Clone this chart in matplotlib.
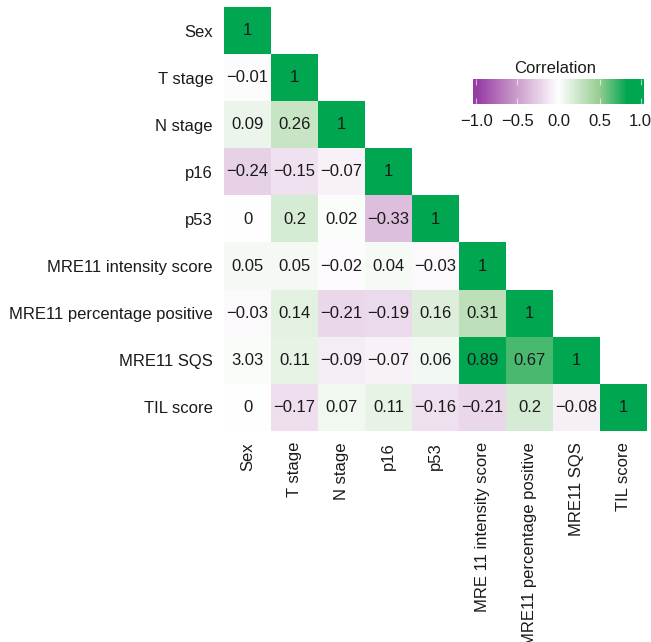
import numpy as np
import matplotlib
matplotlib.use("Agg")
import matplotlib.pyplot as plt
from matplotlib.colors import LinearSegmentedColormap

plt.rcParams['font.family'] = ['Liberation Sans', 'DejaVu Sans']
plt.rcParams['font.size'] = 12

labels = ["Sex", "T stage", "N stage", "p16", "p53",
          "MRE11 intensity score", "MRE11 percentage positive",
          "MRE11 SQS", "TIL score"]
xlabels = ["Sex", "T stage", "N stage", "p16", "p53",
           "MRE 11 intensity score", "MRE11 percentage positive",
           "MRE11 SQS", "TIL score"]

# lower triangle, row by row
rows = [
    [1],
    [-0.01, 1],
    [0.09, 0.26, 1],
    [-0.24, -0.15, -0.07, 1],
    [0, 0.2, 0.02, -0.33, 1],
    [0.05, 0.05, -0.02, 0.04, -0.03, 1],
    [-0.03, 0.14, -0.21, -0.19, 0.16, 0.31, 1],
    [0.03, 0.11, -0.09, -0.07, 0.06, 0.89, 0.67, 1],
    [0, -0.17, 0.07, 0.11, -0.16, -0.21, 0.2, -0.08, 1],
]
# printed as in the original figure (colour follows 0.03)
text_override = {(7, 0): "3.03"}

cbar_ticks = [-1, -0.5, 0, 0.5, 1]

n = len(labels)
corr = np.full((n, n), np.nan)
for i, r in enumerate(rows):
    corr[i, :len(r)] = r

cmap = LinearSegmentedColormap.from_list("pg", [
    (0.0, (150/255, 60/255, 165/255)),
    (0.25, (205/255, 160/255, 205/255)),
    (0.5, (1, 1, 1)),
    (0.75, (150/255, 205/255, 145/255)),
    (0.92, (0/255, 166/255, 80/255)),
    (1.0, (0/255, 166/255, 80/255)),
])

fig = plt.figure(figsize=(6.51, 6.42), dpi=100)
ax = fig.add_axes([224/651, 1 - 431/642, 423/651, 424/642])
im = ax.imshow(np.ma.masked_invalid(corr), cmap=cmap, vmin=-1, vmax=1,
               aspect="auto", interpolation="nearest")

for i in range(n):
    for j in range(i + 1):
        v = corr[i, j]
        txt = text_override.get((i, j), f"{v:g}".replace("-", "\u2212"))
        ax.text(j, i, txt, ha="center", va="center", color="#1a1a1a", fontsize=12)

ax.set_xticks(range(n))
ax.set_yticks(range(n))
ax.set_xticklabels(xlabels, rotation=90, va="top", ha="center")
ax.set_yticklabels(labels)
ax.tick_params(length=0, pad=8, colors="#1a1a1a")
for s in ax.spines.values():
    s.set_visible(False)

# legend bar drawn as a gradient, slightly wider than the tick range
cax = fig.add_axes([473/651, 1 - 104/642, 171/651, 25/642])
grad = np.linspace(-1.04, 1.04, 300).reshape(1, -1)
cax.imshow(grad, cmap=cmap, vmin=-1, vmax=1, aspect="auto",
           extent=(-1.04, 1.04, 0, 1))
cax.set_xlim(-1.04, 1.04)
cax.set_yticks([])
cax.set_xticks(cbar_ticks)
cax.set_xticklabels(["\u22121.0", "\u22120.5", "0.0", "0.5", "1.0"])
cax.tick_params(axis="x", direction="in", length=4, width=0.8, color=(1, 1, 1, 0.6),
                pad=7, labelsize=12, labelcolor="#1a1a1a", top=True)
for s in cax.spines.values():
    s.set_visible(False)
cax.set_title("Correlation", fontsize=12, pad=4, color="#1a1a1a", x=0.48)

fig.savefig("out.png", dpi=100)
